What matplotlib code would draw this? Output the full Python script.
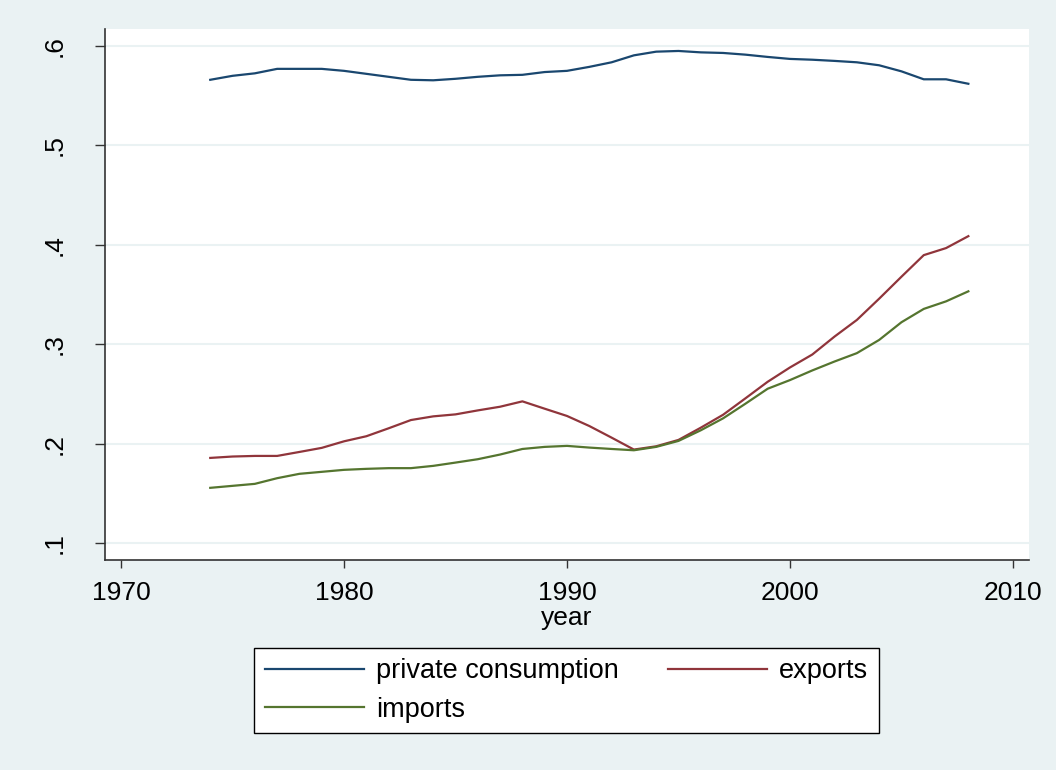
import matplotlib
matplotlib.use("Agg")
import matplotlib.pyplot as plt

years = list(range(1974, 2009))
private_consumption = [0.566, 0.570, 0.5725, 0.577, 0.577, 0.577, 0.575, 0.572, 0.569, 0.566,
                       0.5655, 0.567, 0.569, 0.5705, 0.571, 0.5738, 0.575, 0.579, 0.5836, 0.5906,
                       0.5943, 0.595, 0.5936, 0.593, 0.5913, 0.589, 0.587, 0.5862, 0.585, 0.5836,
                       0.5806, 0.5745, 0.5665, 0.5665, 0.562]
exports = [0.1856, 0.187, 0.1876, 0.1876, 0.1916, 0.1957, 0.2023, 0.2074, 0.2154, 0.2237,
           0.2274, 0.2294, 0.2334, 0.2371, 0.2425, 0.2351, 0.2278, 0.2177, 0.206, 0.194,
           0.1973, 0.2037, 0.216, 0.229, 0.2455, 0.2622, 0.2766, 0.2896, 0.3077, 0.3244,
           0.3458, 0.3679, 0.3896, 0.3967, 0.4087]
imports = [0.1555, 0.1575, 0.1595, 0.1652, 0.1696, 0.1716, 0.1736, 0.1746, 0.1753, 0.1753,
           0.1776, 0.1809, 0.1843, 0.189, 0.1946, 0.1967, 0.1977, 0.196, 0.1946, 0.1933,
           0.1967, 0.2027, 0.2134, 0.2254, 0.2401, 0.2552, 0.2639, 0.2736, 0.2826, 0.2910,
           0.3043, 0.3221, 0.3355, 0.3431, 0.3532]

xticks = [1970, 1980, 1990, 2000, 2010]
yticks = [0.1, 0.2, 0.3, 0.4, 0.5, 0.6]
ytick_labels = [".1", ".2", ".3", ".4", ".5", ".6"]
series_names = ["private consumption", "exports", "imports"]
colors = ["#1a476f", "#90353b", "#55752f"]

plt.rcParams['font.family'] = ['Liberation Sans', 'DejaVu Sans']
bg = "#eaf2f3"

fig = plt.figure(figsize=(10.56, 7.70), dpi=100, facecolor=bg)
ax = fig.add_axes([105/1056, 1-560/770, (1029-105)/1056, (560-29)/770])
ax.set_facecolor("white")

lines = []
for vals, name, c in zip([private_consumption, exports, imports], series_names, colors):
    l, = ax.plot(years, vals, color=c, lw=1.6, label=name, solid_joinstyle='round')
    lines.append(l)

ax.set_xlim(1969.28, 2010.72)
ax.set_ylim(0.0829, 0.6171)
ax.set_xticks(xticks)
ax.set_yticks(yticks)
ax.set_yticklabels(ytick_labels, rotation=90, va='center')
ax.tick_params(axis='y', length=7.5, width=1, color='#333333', labelsize=19, pad=20)
ax.tick_params(axis='x', length=6, width=1, color='#333333', labelsize=19, pad=9)
ax.yaxis.grid(True, color=bg, lw=1.5)
ax.set_axisbelow(True)
for s in ['top', 'right']:
    ax.spines[s].set_visible(False)
for s in ['left', 'bottom']:
    ax.spines[s].set_color('#333333')
    ax.spines[s].set_linewidth(1.2)
ax.set_xlabel("year", fontsize=19, labelpad=1)

leg = fig.legend(handles=[lines[0], lines[2], lines[1]], ncol=2, loc='center',
                 bbox_to_anchor=(566.5/1056, 1-690.5/770), fontsize=19.5, frameon=True,
                 fancybox=False, edgecolor='black', facecolor='white', framealpha=1,
                 handlelength=3.65, handletextpad=0.45, columnspacing=1.8,
                 borderpad=0.4, labelspacing=0.45)
leg.get_frame().set_linewidth(1)

fig.savefig("out.png", dpi=100, facecolor=bg)
